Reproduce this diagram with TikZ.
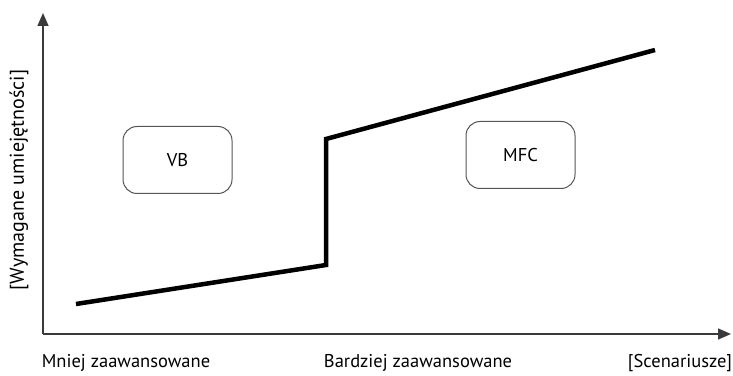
\documentclass[tikz,border=0pt]{standalone}
\usepackage{fontspec}
\setmainfont{PT Sans}
\usetikzlibrary{arrows.meta}
\begin{document}
\begin{tikzpicture}[x=1pt,y=1pt]
\definecolor{axiscol}{HTML}{3A3A3A}
\definecolor{boxcol}{HTML}{555555}
\tikzset{
  axis/.style = {draw = axiscol, line width = 1.5pt, -{Triangle[length = 13pt, width = 11pt]}},
  levelbox/.style = {draw = boxcol, line width = 1pt, rounded corners = 14pt, minimum width = 109pt, minimum height = 67pt, font = \fontsize{18.5}{22}\selectfont},
  axislabel/.style = {font = \fontsize{18.5}{22}\selectfont}
}
\useasboundingbox (0, 0) rectangle (733, 375);
\coordinate (origin) at (43, 41);
\coordinate (ytip) at (43, 362);
\coordinate (xtip) at (731, 41);
\draw[axis] (origin) -- (ytip);
\draw[axis] (origin) -- (xtip);
\coordinate (low) at (76, 71);
\coordinate (stepbottom) at (326, 110);
\coordinate (steptop) at (326, 236);
\coordinate (high) at (655, 325);
\draw[line width = 4.5pt, line join = miter] (low) -- (stepbottom) -- (steptop) -- (high);
\node[levelbox] (vb) at (177.5, 215) {VB};
\node[levelbox] (mfc) at (520.5, 220) {MFC};
\node[axislabel] (less) at (126, 12) {Mniej zaawansowane};
\node[axislabel] (more) at (418, 12) {Bardziej zaawansowane};
\node[axislabel] (scen) at (680, 12) {[Scenariusze]};
\node[axislabel, font = \fontsize{20}{24}\selectfont, rotate = 90] (skill) at (19, 195) {[Wymagane umiejętności]};
\end{tikzpicture}
\end{document}
